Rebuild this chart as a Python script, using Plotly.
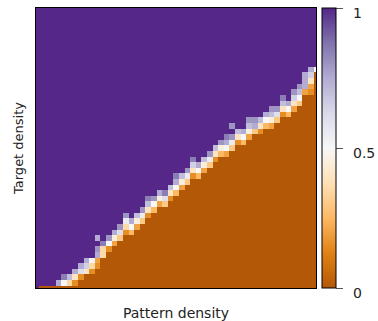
import plotly.graph_objects as go

# Grid of pattern density (columns) and target density (rows), 0..1 in steps of 0.02
pattern_density = [j / 50 for j in range(51)]
target_density = [i / 50 for i in range(51)]

# Number of fully failed rows (value 0) at the bottom of each column
zero_rows = [0, 1, 1, 1, 1, 1, 1, 1, 2, 3, 3, 4, 6, 7, 8, 9, 10, 10, 11, 12,
             13, 14, 15, 15, 16, 17, 18, 19, 20, 20, 21, 22, 23, 24, 24, 25, 26, 26, 27, 28,
             28, 29, 29, 30, 31, 31, 32, 33, 35, 35, 39]

# Success fraction in the rows just above the failed region, per column
edge_values = [
    [],
    [], [], [], [0.75], [0.5, 0.85], [0.35, 0.7], [0.15, 0.4, 0.75], [0.15, 0.6, 0.75],
    [0.4, 0.65, 0.75], [0.15, 0.35, 0.5], [0.15, 0.2, 0.75, 0.8], [0.35, 0.35, 0.85],
    [0.15, 0.5, 0.8], [0.2, 0.45, 0.75], [0.3, 0.6, 0.8], [0.15, 0.35, 0.55, 0.8],
    [0.25, 0.5, 0.75], [0.2, 0.45, 0.7], [0.3, 0.55, 0.8], [0.15, 0.4, 0.7, 0.85],
    [0.25, 0.5, 0.8], [0.2, 0.45, 0.75], [0.3, 0.6, 0.85], [0.15, 0.4, 0.7],
    [0.25, 0.5, 0.75, 0.85], [0.2, 0.45, 0.7], [0.3, 0.55, 0.8], [0.15, 0.4, 0.65, 0.85],
    [0.25, 0.5, 0.75], [0.2, 0.45, 0.7], [0.3, 0.55, 0.8], [0.15, 0.4, 0.7],
    [0.25, 0.45, 0.75], [0.2, 0.5, 0.75, 0.85], [0.3, 0.55, 0.8], [0.15, 0.4, 0.7],
    [0.25, 0.5, 0.75], [0.2, 0.45, 0.7, 0.8], [0.3, 0.55, 0.8], [0.15, 0.4, 0.7],
    [0.25, 0.5, 0.75], [0.2, 0.45, 0.7], [0.3, 0.6, 0.8], [0.15, 0.4, 0.7, 0.85],
    [0.25, 0.5, 0.75], [0.2, 0.4, 0.65, 0.8], [0.3, 0.5, 0.7, 0.8], [0.2, 0.75, 0.75, 0.75],
    [0.15, 0.2, 0.4, 0.65, 0.75], [0.5],
]

# Isolated partially successful cells inside the solved region: (column, row, value)
stray_cells = [(11, 9, 0.75), (33, 26, 0.8), (35, 29, 0.8), (39, 29, 0.75), (42, 32, 0.8)]

success = []
for i in range(len(target_density)):
    row = []
    for j in range(len(pattern_density)):
        k = i - zero_rows[j]
        if k < 0:
            row.append(0.0)
        elif k < len(edge_values[j]):
            row.append(edge_values[j][k])
        else:
            row.append(1.0)
    success.append(row)
for j, i, v in stray_cells:
    success[i][j] = v

puor = [
    [0 / 8, "#B35806"], [1 / 8, "#E08214"], [2 / 8, "#FDB863"], [3 / 8, "#FEE0B6"],
    [4 / 8, "#F7F7F7"], [5 / 8, "#D8DAEB"], [6 / 8, "#B2ABD2"], [7 / 8, "#8073AC"],
    [8 / 8, "#542788"],
]

colorbar_ticks = [0, 0.5, 1]
colorbar_labels = ["0", "0.5", "1"]

fig = go.Figure(
    go.Heatmap(
        x=pattern_density,
        y=target_density,
        z=success,
        zmin=0,
        zmax=1,
        colorscale=puor,
        colorbar=dict(
            x=1.021,
            xanchor="left",
            xpad=0,
            ypad=0,
            y=0.5,
            yanchor="middle",
            len=1,
            lenmode="fraction",
            thickness=14,
            outlinewidth=1,
            outlinecolor="black",
            tickvals=colorbar_ticks,
            ticks="outside",
            ticklen=7,
            tickcolor="#555555",
            showticklabels=False,
        ),
    )
)

# Colorbar labels hang just below their tick marks
for val, label in zip(colorbar_ticks, colorbar_labels):
    fig.add_annotation(
        xref="paper", yref="paper",
        x=1.132, y=val,
        xanchor="left", yanchor="middle",
        yshift=-5, xshift=-2,
        text=label, showarrow=False,
        font=dict(family="DejaVu Sans", size=14, color="#222222"),
    )

axis_common = dict(
    range=[0, 1],
    showticklabels=False,
    ticks="",
    showgrid=False,
    zeroline=False,
    showline=True,
    mirror=True,
    linecolor="black",
    linewidth=1,
)

fig.update_layout(
    width=378,
    height=321,
    margin=dict(l=36, r=62, t=8, b=33, autoexpand=False),
    paper_bgcolor="white",
    plot_bgcolor="white",
    font=dict(family="DejaVu Sans", size=13, color="#222222"),
    xaxis=dict(axis_common, title=dict(text="Pattern density", standoff=20,
                                       font=dict(size=14))),
    yaxis=dict(axis_common, title=dict(text="Target density", standoff=8,
                                       font=dict(size=13))),
)

fig.write_html("out.html")
